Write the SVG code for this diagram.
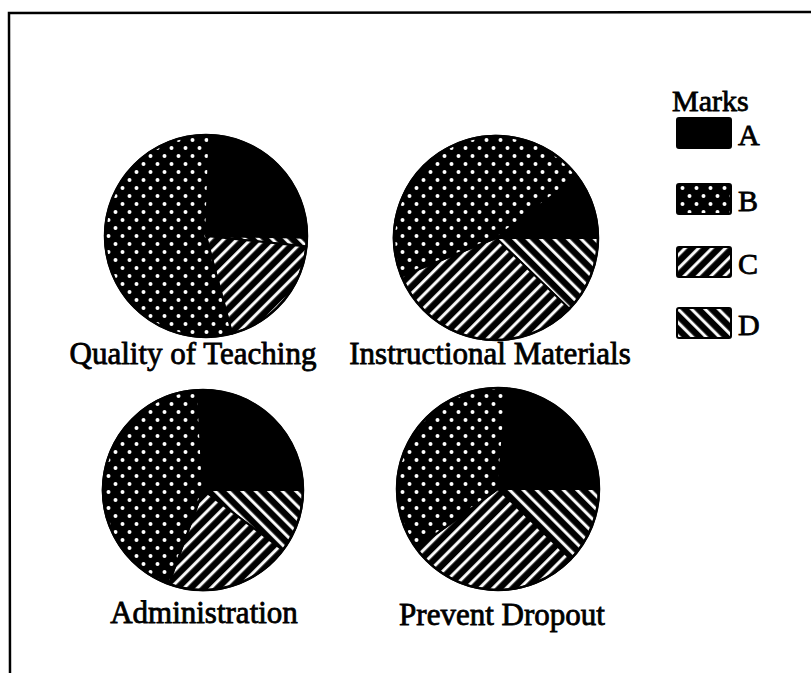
<svg xmlns="http://www.w3.org/2000/svg" width="811" height="673" viewBox="0 0 811 673">
<style>
  .lbl { font-family: "Liberation Serif", "Times New Roman", serif; font-size: 31px; fill: #000; stroke: #000; stroke-width: 0.8; }
  .leg { font-family: "Liberation Serif", "Times New Roman", serif; font-size: 30px; fill: #000; stroke: #000; stroke-width: 0.8; }
  .slice { stroke: #000; stroke-width: 2; stroke-linejoin: round; }
  .a { fill: #000; }
  .b { fill: url(#dots); }
  .c { fill: url(#hatchC); }
  .d { fill: url(#hatchD); }
  .rim { fill: none; stroke: #000; stroke-width: 2.5; }
  .box { stroke: #000; stroke-width: 2; }
</style>
<defs>
  <pattern id="dots" patternUnits="userSpaceOnUse" width="14" height="16">
    <rect width="14" height="16" fill="#000"/>
    <circle cx="3.5" cy="4" r="2" fill="#fff"/>
    <circle cx="10.5" cy="12" r="2" fill="#fff"/>
  </pattern>
  <pattern id="hatchC" patternUnits="userSpaceOnUse" width="9.5" height="9.5" patternTransform="rotate(45)">
    <rect width="9.5" height="9.5" fill="#000"/>
    <rect x="3" width="3" height="9.5" fill="#fff"/>
  </pattern>
  <pattern id="hatchD" patternUnits="userSpaceOnUse" width="9.5" height="9.5" patternTransform="rotate(-45)">
    <rect width="9.5" height="9.5" fill="#000"/>
    <rect x="3" width="3" height="9.5" fill="#fff"/>
  </pattern>
</defs>

<g id="frame" fill="none" stroke="#000" stroke-width="2.5">
  <path d="M811 12 L9 13 L10 673"/>
</g>

<g id="pie-quality">
  <path class="slice a" d="M206 236 L209.5 135.1 A101 101 0 0 1 307 237.8 Z"/>
  <path class="slice d" d="M206 236 L307 237.8 A101 101 0 0 1 306.4 246.6 Z"/>
  <path class="slice c" d="M206 236 L306.4 246.6 A101 101 0 0 1 232.1 333.6 Z"/>
  <path class="slice b" d="M206 236 L232.1 333.6 A101 101 0 1 1 209.5 135.1 Z"/>
  <circle class="rim" cx="206" cy="236" r="101"/>
  <text class="lbl" x="193" y="364" text-anchor="middle">Quality of Teaching</text>
</g>

<g id="pie-instructional">
  <path class="slice a" d="M496 238 L577.5 176.6 A102 102 0 0 1 598 238 Z"/>
  <path class="slice d" d="M496 238 L598 238 A102 102 0 0 1 569.4 308.9 Z"/>
  <path class="slice c" d="M496 238 L569.4 308.9 A102 102 0 0 1 401.4 276.2 Z"/>
  <path class="slice b" d="M496 238 L401.4 276.2 A102 102 0 0 1 577.5 176.6 Z"/>
  <circle class="rim" cx="496" cy="238" r="102"/>
  <text class="lbl" x="490" y="364" text-anchor="middle">Instructional Materials</text>
</g>

<g id="pie-administration">
  <path class="slice a" d="M203 490 L197.8 390.1 A100 100 0 0 1 303 490 Z"/>
  <path class="slice d" d="M203 490 L303 490 A100 100 0 0 1 282.9 550.2 Z"/>
  <path class="slice c" d="M203 490 L282.9 550.2 A100 100 0 0 1 168.8 584 Z"/>
  <path class="slice b" d="M203 490 L168.8 584 A100 100 0 0 1 197.8 390.1 Z"/>
  <circle class="rim" cx="203" cy="490" r="100"/>
  <text class="lbl" x="204" y="623" text-anchor="middle">Administration</text>
</g>

<g id="pie-dropout">
  <path class="slice a" d="M498 489 L506.8 388.4 A101 101 0 0 1 599 489 Z"/>
  <path class="slice d" d="M498 489 L599 489 A101 101 0 0 1 570.7 559.2 Z"/>
  <path class="slice c" d="M498 489 L570.7 559.2 A101 101 0 0 1 416.3 548.4 Z"/>
  <path class="slice b" d="M498 489 L416.3 548.4 A101 101 0 0 1 506.8 388.4 Z"/>
  <circle class="rim" cx="498" cy="489" r="101"/>
  <text class="lbl" x="502" y="625" text-anchor="middle">Prevent Dropout</text>
</g>

<g id="legend">
  <text class="leg" x="672" y="111">Marks</text>
  <g id="legend-a">
    <rect class="box a" x="677" y="118" width="54" height="30" rx="2"/>
    <text class="leg" x="738" y="145">A</text>
  </g>
  <g id="legend-b">
    <rect class="box b" x="677" y="184" width="54" height="30" rx="2"/>
    <text class="leg" x="738" y="211">B</text>
  </g>
  <g id="legend-c">
    <rect class="box c" x="677" y="247" width="54" height="30" rx="2"/>
    <text class="leg" x="738" y="274">C</text>
  </g>
  <g id="legend-d">
    <rect class="box d" x="677" y="308" width="54" height="30" rx="2"/>
    <text class="leg" x="738" y="335">D</text>
  </g>
</g>

<g id="connectors"></g>
</svg>
